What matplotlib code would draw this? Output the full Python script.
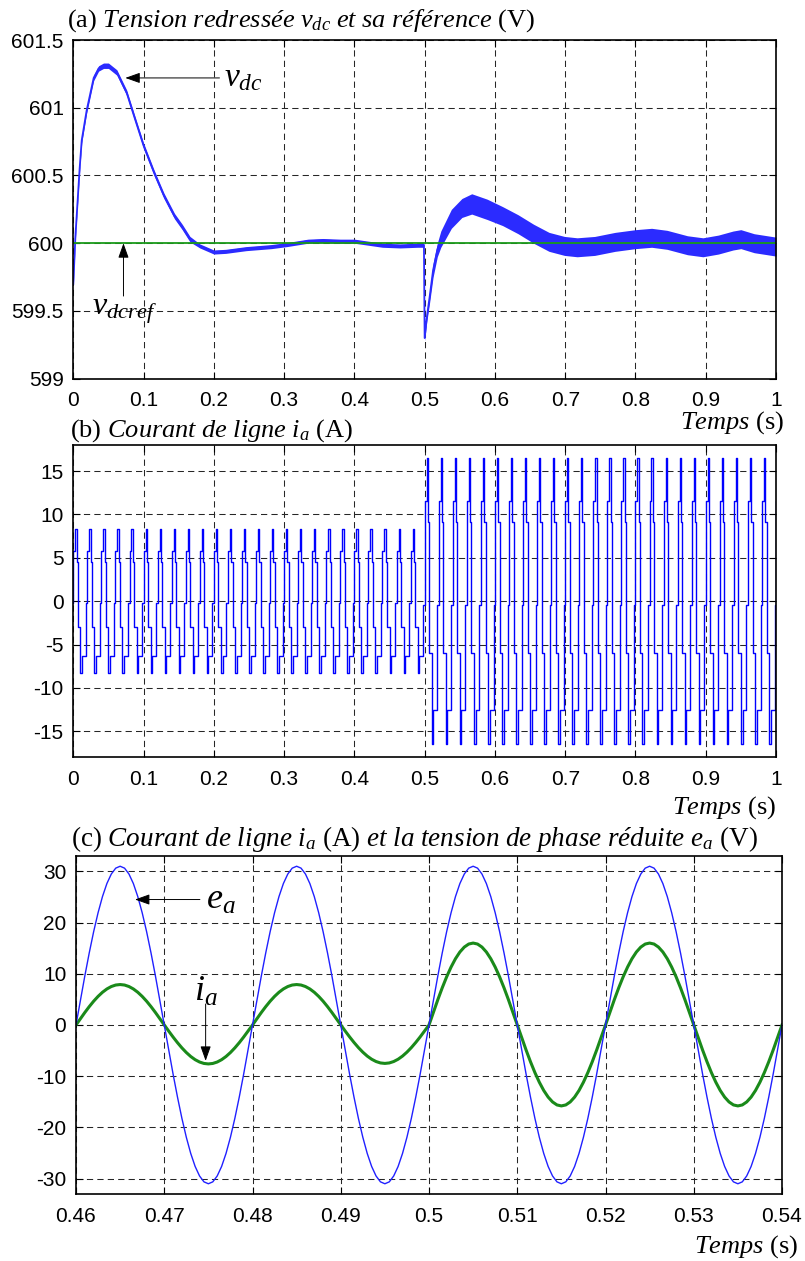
import numpy as np
import matplotlib
matplotlib.use("Agg")
import matplotlib.pyplot as plt

plt.rcParams['font.family'] = ['Liberation Sans', 'DejaVu Sans']
plt.rcParams['mathtext.fontset'] = 'custom'
plt.rcParams['mathtext.rm'] = 'Liberation Serif'
plt.rcParams['mathtext.it'] = 'Liberation Serif:italic'
plt.rcParams['axes.unicode_minus'] = False

# ---------------- data: panel (a) DC-link voltage ----------------
vdc_t = [0.0, 0.003, 0.006, 0.009, 0.012, 0.019, 0.029, 0.036, 0.043, 0.05,
         0.062, 0.076, 0.087, 0.1, 0.115, 0.129, 0.144, 0.155, 0.166, 0.18,
         0.2, 0.217, 0.246, 0.282, 0.304, 0.334, 0.355, 0.38, 0.4, 0.42,
         0.44, 0.465, 0.49, 0.499, 0.5, 0.503, 0.507, 0.512, 0.518, 0.523,
         0.538, 0.553, 0.567, 0.589, 0.611, 0.633, 0.655, 0.677, 0.699, 0.717,
         0.742, 0.771, 0.8, 0.823, 0.845, 0.874, 0.896, 0.918, 0.939, 0.95,
         0.969, 1.0]
vdc_v = [599.7, 600.05, 600.3, 600.55, 600.76, 600.98, 601.22, 601.29, 601.31, 601.31,
         601.26, 601.11, 600.93, 600.72, 600.52, 600.35, 600.2, 600.12, 600.03, 599.98,
         599.935, 599.94, 599.96, 599.975, 599.99, 600.015, 600.02, 600.015, 600.015, 600.0,
         599.985, 599.98, 599.985, 599.985, 599.3, 599.45, 599.6, 599.8, 599.95, 600.03,
         600.18, 600.26, 600.29, 600.25, 600.2, 600.14, 600.07, 600.01, 599.98, 599.97,
         599.98, 600.01, 600.03, 600.04, 600.025, 599.985, 599.97, 599.99, 600.02, 600.03,
         600.0, 599.975]
vdc_ripple = [0.02, 0.02, 0.02, 0.02, 0.02, 0.02, 0.02, 0.02, 0.02, 0.02,
              0.02, 0.02, 0.02, 0.02, 0.02, 0.02, 0.02, 0.02, 0.02, 0.015,
              0.015, 0.015, 0.015, 0.015, 0.015, 0.015, 0.015, 0.015, 0.015, 0.015,
              0.015, 0.015, 0.015, 0.015, 0.02, 0.03, 0.04, 0.05, 0.05, 0.06,
              0.07, 0.07, 0.075, 0.075, 0.07, 0.07, 0.07, 0.07, 0.07, 0.07,
              0.07, 0.07, 0.07, 0.07, 0.07, 0.07, 0.07, 0.07, 0.07, 0.07,
              0.07, 0.07]
vdc_ref = 600.0

# ---------------- data: panel (b) line current (stepped waveform) ----------------
ib_period = 0.02
ib_offset = -0.002
ib_cycle_phase = [0.0, 0.10, 0.24, 0.33, 0.43, 0.60, 0.72]
ib_cycle_level = [-0.03, 0.70, 1.0, 0.55, -0.36, -1.0, -0.76]
ib_amp_before, ib_amp_after = 8.3, 16.5
ib_step_time = 0.5

# ---------------- data: panel (c) zoom around load step ----------------
c_t0, c_dt = 0.46, 0.0005
half_shape = [0.0, 0.156, 0.309, 0.454, 0.588, 0.707, 0.809, 0.891, 0.951, 0.988,
              1.0, 0.988, 0.951, 0.891, 0.809, 0.707, 0.588, 0.454, 0.309, 0.156]
ea_peaks = [31, -31, 31, -31, 31, -31, 31, -31]
ia_peaks = [7.9, -7.6, 7.9, -7.5, 16.0, -15.8, 16.0, -15.8]

# ---------------- figure ----------------
fig = plt.figure(figsize=(8.05, 12.61), dpi=100)
W, H = 805, 1261

def make_ax(l, r, t, b):
    return fig.add_axes([l / W, 1 - b / H, (r - l) / W, (b - t) / H])

ax1 = make_ax(73.3, 776, 40, 378.7)
ax2 = make_ax(73.3, 776, 445, 757.3)
ax3 = make_ax(76, 782, 856, 1194)

tick_fs = 15
for ax in (ax1, ax2, ax3):
    ax.grid(True, color='0.15', linestyle=(0, (6, 4)), linewidth=0.75)
    ax.tick_params(direction='in', top=True, right=True, length=5, width=0.8,
                   labelsize=tick_fs)
    ax.tick_params(axis='x', pad=9)
    ax.tick_params(axis='y', pad=7)
    for s in ax.spines.values():
        s.set_linewidth(1.2)
    ax.set_axisbelow(True)

xt = np.arange(0, 1.01, 0.1)
xt_labels = ['0', '0.1', '0.2', '0.3', '0.4', '0.5', '0.6', '0.7', '0.8', '0.9', '1']

# panel (a)
blue_band = '#2b2bff'
t_a = np.array(vdc_t)
v_a = np.array(vdc_v)
r_a = np.array(vdc_ripple)
ax1.fill_between(t_a, v_a - r_a, v_a + r_a, color=blue_band, linewidth=0)
ax1.plot(t_a, v_a, color=blue_band, linewidth=1.3)
ax1.plot([0, 1], [vdc_ref, vdc_ref], color='#1a9a1a', linewidth=1.3)
ax1.set_xlim(0, 1)
ax1.set_ylim(599, 601.5)
ax1.set_xticks(xt)
ax1.set_xticklabels(xt_labels)
ax1.set_yticks([599, 599.5, 600, 600.5, 601, 601.5])
ax1.set_yticklabels(['599', '599.5', '600', '600.5', '601', '601.5'])

arrow_kw = dict(arrowstyle='-|>,head_length=0.9,head_width=0.32', color='black',
                linewidth=0.7, shrinkA=0, shrinkB=0)
ax1.annotate('', xy=(0.074, 601.22), xytext=(0.208, 601.22), arrowprops=arrow_kw)
ax1.text(0.214, 601.22, r'$v_{dc}$', fontsize=24, va='center', ha='left')
ax1.annotate('', xy=(0.0714, 600.0), xytext=(0.0714, 599.61), arrowprops=arrow_kw)
ax1.text(0.026, 599.5, r'$v_{dcref}$', fontsize=23, va='center', ha='left')

# panel (b)
tb, ib = [], []
n_cycles = int(round(1.0 / ib_period)) + 1
for k in range(n_cycles + 1):
    t0 = k * ib_period + ib_offset
    amp = ib_amp_before if t0 + 0.5 * ib_period < ib_step_time else ib_amp_after
    for ph, lv in zip(ib_cycle_phase, ib_cycle_level):
        tb.append(t0 + ph * ib_period)
        ib.append(amp * lv)
ax2.plot(tb, ib, color='#0000ff', linewidth=1.0, drawstyle='steps-post')
ax2.set_xlim(0, 1)
ax2.set_ylim(-18, 18)
ax2.set_xticks(xt)
ax2.set_xticklabels(xt_labels)
ax2.set_yticks([-15, -10, -5, 0, 5, 10, 15])

# panel (c)
tc, ea, ia = [], [], []
for h, (pe, pi) in enumerate(zip(ea_peaks, ia_peaks)):
    for j, s in enumerate(half_shape):
        tc.append(c_t0 + (h * len(half_shape) + j) * c_dt)
        ea.append(pe * s)
        ia.append(pi * s)
tc.append(c_t0 + len(ea_peaks) * len(half_shape) * c_dt)
ea.append(0.0)
ia.append(0.0)
ax3.plot(tc, ia, color='#1a8a1a', linewidth=2.2)
ax3.plot(tc, ea, color='#2020ff', linewidth=1.0)
ax3.set_xlim(0.46, 0.54)
ax3.set_ylim(-33, 33)
ax3.set_xticks([0.46, 0.47, 0.48, 0.49, 0.5, 0.51, 0.52, 0.53, 0.54])
ax3.set_xticklabels(['0.46', '0.47', '0.48', '0.49', '0.5', '0.51', '0.52', '0.53', '0.54'])
ax3.set_yticks([-30, -20, -10, 0, 10, 20, 30])

ax3.annotate('', xy=(0.46668, 24.5), xytext=(0.47404, 24.5), arrowprops=arrow_kw)
ax3.text(0.4747, 24.5, r'$e_a$', fontsize=26, va='center', ha='left')
ax3.annotate('', xy=(0.47469, -7.0), xytext=(0.47469, 4.1), arrowprops=arrow_kw)
ax3.text(0.4734, 6.6, r'$i_a$', fontsize=26, va='center', ha='left')

# titles and axis labels (figure pixel coordinates)
title_fs = 19
def ftext(x, y, s, fs=title_fs, **kw):
    fig.text(x / W, 1 - y / H, s, fontsize=fs, va='center', **kw)

ftext(67, 21, r'(a) $Tension\ redressée\ v_{dc}\ et\ sa\ référence$ (V)',
      family='Liberation Serif')
ftext(70, 431, r'(b) $Courant\ de\ ligne\ i_a$ (A)', family='Liberation Serif')
ftext(71, 839, r'(c) $Courant\ de\ ligne\ i_a$ (A) $et\ la\ tension\ de\ phase\ réduite\ e_a$ (V)',
      fs=19.5, family='Liberation Serif')
ftext(784, 423, r'$Temps$ (s)', family='Liberation Serif', ha='right')
ftext(776, 808, r'$Temps$ (s)', family='Liberation Serif', ha='right')
ftext(798, 1247, r'$Temps$ (s)', family='Liberation Serif', ha='right')

fig.savefig('out.png', dpi=100)
